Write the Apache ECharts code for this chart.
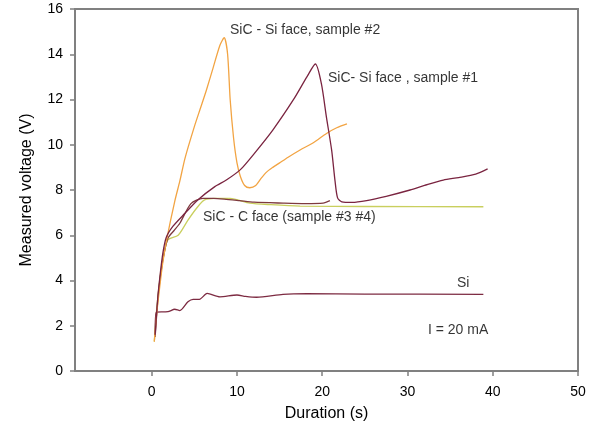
<!DOCTYPE html>
<html>
<head>
<meta charset="utf-8">
<script src="https://cdn.jsdelivr.net/npm/echarts@6/dist/echarts.min.js"></script>
<style>html,body{margin:0;padding:0;background:#fff}#c{width:605px;height:431px}</style>
</head>
<body>
<div id="c"></div>
<script>
// ---- data (x: duration s, y: voltage V) ----
const xTicks = [0, 10, 20, 30, 40, 50];
const sic2 = [[0.3,1.3],[0.6,2.6],[0.9,3.6],[1.3,4.8],[1.8,5.9],[2.7,7.5],[3.3,8.4],[3.9,9.4],[5.0,10.8],[5.7,11.6],[6.4,12.4],[7.2,13.4],[8.0,14.4],[8.5,14.73],[8.9,14.0],[9.2,12.0],[9.6,10.3],[10.0,9.2],[10.4,8.6],[10.9,8.2],[11.5,8.1],[12.2,8.2],[12.8,8.5],[13.5,8.8],[14.2,9.0],[15.0,9.2],[16.0,9.45],[17.4,9.77],[19.0,10.1],[20.5,10.5],[21.7,10.75],[22.9,10.92]];
const sic1 = [[0.4,1.6],[0.7,3.2],[1.0,4.3],[1.3,5.2],[1.7,5.9],[2.5,6.4],[3.9,6.97],[5.4,7.56],[7.4,8.15],[8.75,8.44],[10.4,8.9],[12.0,9.6],[14.2,10.65],[16.6,11.98],[18.2,13.0],[19.2,13.57],[19.9,12.7],[20.5,11.2],[21.1,9.77],[21.5,8.4],[21.8,7.65],[22.3,7.48],[23.5,7.45],[25.2,7.53],[27.5,7.72],[30.3,8.0],[32.0,8.2],[34.2,8.44],[36.0,8.55],[38.0,8.7],[39.4,8.93]];
const sicC3 = [[0.4,1.5],[0.8,3.5],[1.3,4.9],[1.9,5.87],[2.6,6.2],[3.3,6.53],[4.6,7.4],[6.0,7.63],[7.2,7.63],[8.5,7.6],[10.3,7.53],[12.0,7.46],[15.4,7.42],[18.0,7.4],[20.1,7.42],[20.9,7.53]];
const sicC4 = [[0.3,1.3],[0.6,2.8],[1.1,4.5],[1.5,5.3],[1.9,5.8],[3.1,6.0],[4.25,6.67],[5.4,7.26],[6.2,7.56],[7.4,7.63],[9.2,7.63],[11.5,7.42],[14.0,7.35],[17.4,7.29],[25.0,7.27],[38.9,7.26]];
const si = [[0.4,1.6],[0.54,2.6],[1.9,2.62],[2.7,2.73],[3.3,2.67],[4.25,3.06],[4.85,3.17],[5.6,3.17],[6.5,3.43],[8.0,3.28],[10.0,3.36],[11.0,3.3],[12.3,3.26],[15.4,3.39],[18.2,3.42],[25.0,3.4],[38.9,3.39]];
const notes = [
  {text: 'SiC - Si face, sample #2', at: [9.18, 15.07]},
  {text: 'SiC- Si face , sample #1', at: [20.67, 12.95]},
  {text: 'SiC - C face (sample #3 #4)', at: [6.01, 6.81]},
  {text: 'Si', at: [35.8, 3.89]},
  {text: 'I = 20 mA', at: [32.4, 1.81]}
];

const FONT = '"Liberation Sans", Arial, sans-serif';
const axisGray = '#808080';
function line(data, color) {
  return {type: 'line', data: data, showSymbol: false, symbol: 'none', smooth: 0.25,
    lineStyle: {color: color, width: 1.3}, animation: false, z: 2};
}
const chart = echarts.init(document.getElementById('c'), null, {renderer: 'canvas'});
chart.setOption({
  animation: false,
  backgroundColor: '#fff',
  grid: {left: 75, top: 9, right: 27, bottom: 60, show: true, borderColor: axisGray, borderWidth: 2, backgroundColor: 'transparent'},
  xAxis: {
    type: 'value', min: -9, max: 50,
    name: 'Duration (s)', nameLocation: 'middle', nameGap: 35,
    nameTextStyle: {fontFamily: FONT, fontSize: 16, color: '#000'},
    axisLine: {show: true, onZero: false, lineStyle: {color: axisGray, width: 2}},
    axisTick: {show: true, length: 5, inside: false, customValues: xTicks, lineStyle: {color: axisGray, width: 1.5}},
    axisLabel: {customValues: xTicks, fontFamily: FONT, fontSize: 14, color: '#000', margin: 14},
    splitLine: {show: false}
  },
  yAxis: {
    type: 'value', min: 0, max: 16, interval: 2,
    name: 'Measured voltage (V)', nameLocation: 'middle', nameGap: 40,
    nameTextStyle: {fontFamily: FONT, fontSize: 16, color: '#000'},
    axisLine: {show: true, onZero: false, lineStyle: {color: axisGray, width: 2}},
    axisTick: {show: true, length: 5, lineStyle: {color: axisGray, width: 1.5}},
    axisLabel: {fontFamily: FONT, fontSize: 14, color: '#000', margin: 12},
    splitLine: {show: false}
  },
  series: [
    line(sicC4, '#C9CF5E'),
    line(sicC3, '#7E3A3E'),
    line(si, '#7D2B42'),
    line(sic2, '#F2A443'),
    line(sic1, '#7A2440'),
    {
      type: 'scatter', symbolSize: 0, silent: true, z: 5,
      data: notes.map(n => ({value: n.at, label: {formatter: n.text}})),
      label: {show: true, position: 'right', distance: 0, fontFamily: FONT, fontSize: 14, color: '#000'}
    }
  ]
});
</script>
</body>
</html>
